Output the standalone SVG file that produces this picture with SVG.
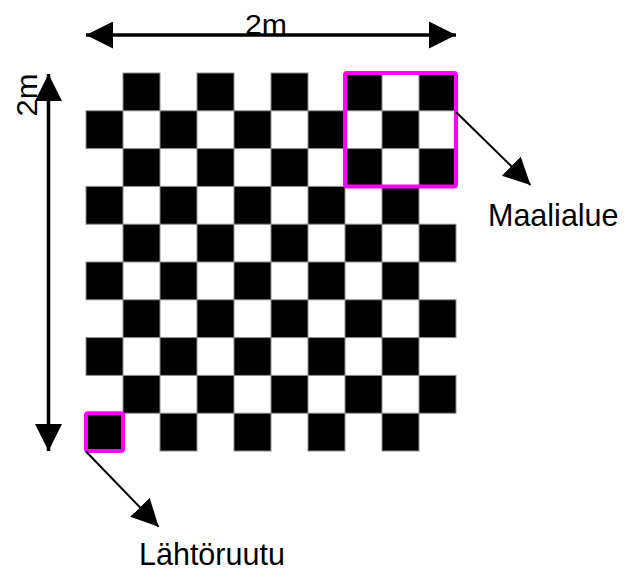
<svg xmlns="http://www.w3.org/2000/svg" width="624" height="570" viewBox="0 0 624 570">
<style>
.b{fill:#000;stroke:#8c8c8c;stroke-width:1}
.hl{fill:none;stroke:#ff00ff;stroke-width:4}
.t{font-family:"Liberation Sans",Arial,sans-serif;fill:#000}
.thick{stroke:#000;stroke-width:3.5;fill:none}
.thin{stroke:#000;stroke-width:2;fill:none}
</style>
<defs>
<marker id="ah" markerUnits="userSpaceOnUse" viewBox="0 0 27 27" refX="27" refY="13.5" markerWidth="27" markerHeight="27" orient="auto">
<path d="M0,0 L27,13.5 L0,27 Z" fill="#000"/>
</marker>
</defs>
<rect width="624" height="570" fill="#fff"/>
<g id="board">
<g>
<rect class="b" x="123" y="73" width="37" height="37.8"/><rect class="b" x="197" y="73" width="37" height="37.8"/><rect class="b" x="271" y="73" width="37" height="37.8"/><rect class="b" x="345" y="73" width="37" height="37.8"/><rect class="b" x="419" y="73" width="37" height="37.8"/>
<rect class="b" x="86" y="110.8" width="37" height="37.8"/><rect class="b" x="160" y="110.8" width="37" height="37.8"/><rect class="b" x="234" y="110.8" width="37" height="37.8"/><rect class="b" x="308" y="110.8" width="37" height="37.8"/><rect class="b" x="382" y="110.8" width="37" height="37.8"/>
<rect class="b" x="123" y="148.6" width="37" height="37.8"/><rect class="b" x="197" y="148.6" width="37" height="37.8"/><rect class="b" x="271" y="148.6" width="37" height="37.8"/><rect class="b" x="345" y="148.6" width="37" height="37.8"/><rect class="b" x="419" y="148.6" width="37" height="37.8"/>
<rect class="b" x="86" y="186.4" width="37" height="37.8"/><rect class="b" x="160" y="186.4" width="37" height="37.8"/><rect class="b" x="234" y="186.4" width="37" height="37.8"/><rect class="b" x="308" y="186.4" width="37" height="37.8"/><rect class="b" x="382" y="186.4" width="37" height="37.8"/>
<rect class="b" x="123" y="224.2" width="37" height="37.8"/><rect class="b" x="197" y="224.2" width="37" height="37.8"/><rect class="b" x="271" y="224.2" width="37" height="37.8"/><rect class="b" x="345" y="224.2" width="37" height="37.8"/><rect class="b" x="419" y="224.2" width="37" height="37.8"/>
<rect class="b" x="86" y="262" width="37" height="37.8"/><rect class="b" x="160" y="262" width="37" height="37.8"/><rect class="b" x="234" y="262" width="37" height="37.8"/><rect class="b" x="308" y="262" width="37" height="37.8"/><rect class="b" x="382" y="262" width="37" height="37.8"/>
<rect class="b" x="123" y="299.8" width="37" height="37.8"/><rect class="b" x="197" y="299.8" width="37" height="37.8"/><rect class="b" x="271" y="299.8" width="37" height="37.8"/><rect class="b" x="345" y="299.8" width="37" height="37.8"/><rect class="b" x="419" y="299.8" width="37" height="37.8"/>
<rect class="b" x="86" y="337.6" width="37" height="37.8"/><rect class="b" x="160" y="337.6" width="37" height="37.8"/><rect class="b" x="234" y="337.6" width="37" height="37.8"/><rect class="b" x="308" y="337.6" width="37" height="37.8"/><rect class="b" x="382" y="337.6" width="37" height="37.8"/>
<rect class="b" x="123" y="375.4" width="37" height="37.8"/><rect class="b" x="197" y="375.4" width="37" height="37.8"/><rect class="b" x="271" y="375.4" width="37" height="37.8"/><rect class="b" x="345" y="375.4" width="37" height="37.8"/><rect class="b" x="419" y="375.4" width="37" height="37.8"/>
<rect class="b" x="86" y="413.2" width="37" height="37.8"/><rect class="b" x="160" y="413.2" width="37" height="37.8"/><rect class="b" x="234" y="413.2" width="37" height="37.8"/><rect class="b" x="308" y="413.2" width="37" height="37.8"/><rect class="b" x="382" y="413.2" width="37" height="37.8"/>
</g>
</g>
<g id="goal">
<rect class="hl" x="345" y="73" width="111" height="113.4" rx="2"/>
<text class="t" x="488" y="225.5" font-size="30.5">Maalialue</text>
</g>
<g id="start">
<rect class="hl" x="86" y="413.2" width="37" height="37.8" rx="2"/>
<text class="t" x="139" y="565" font-size="30.5">Lähtöruutu</text>
</g>
<g id="dimensions">
<text class="t" x="245" y="33.5" font-size="27" textLength="42" lengthAdjust="spacingAndGlyphs">2m</text>
<text class="t" transform="translate(36.5,116.5) rotate(-90)" font-size="29" textLength="43" lengthAdjust="spacingAndGlyphs">2m</text>
</g>
<g id="connectors">
<line class="thick" x1="271" y1="35" x2="456" y2="35" marker-end="url(#ah)"/>
<line class="thick" x1="271" y1="35" x2="86" y2="35" marker-end="url(#ah)"/>
<line class="thick" x1="48.5" y1="262" x2="48.5" y2="74" marker-end="url(#ah)"/>
<line class="thick" x1="48.5" y1="262" x2="48.5" y2="451" marker-end="url(#ah)"/>
<line class="thin" x1="456" y1="112" x2="530.5" y2="185" marker-end="url(#ah)"/>
<line class="thin" x1="86" y1="451.5" x2="158.7" y2="526.7" marker-end="url(#ah)"/>
</g>
</svg>
